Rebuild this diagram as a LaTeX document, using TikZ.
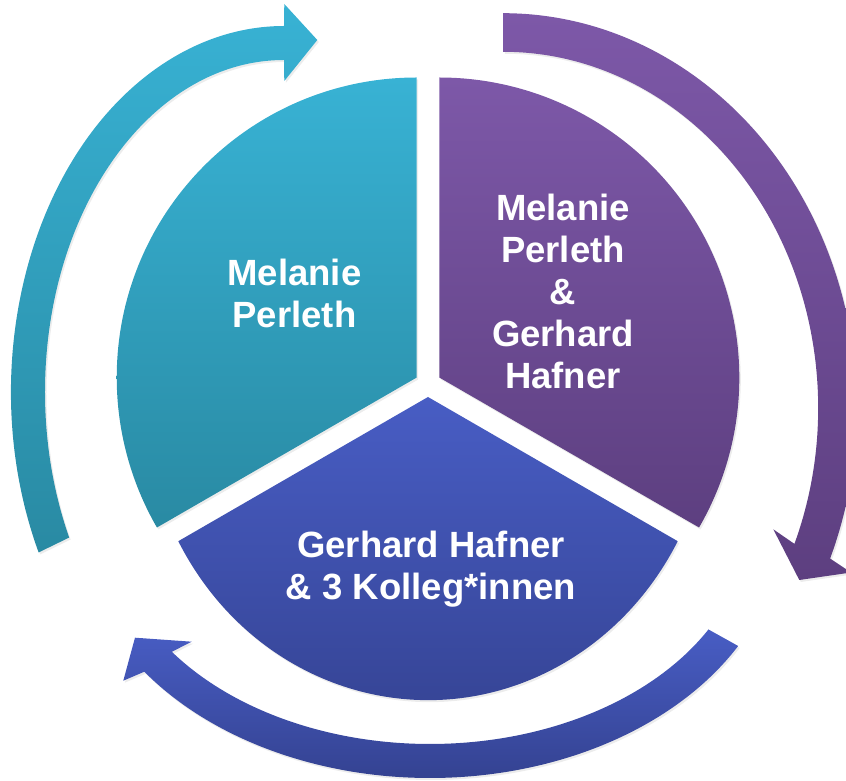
\documentclass[tikz,border=0pt]{standalone}
\usepackage{fontspec}
\setmainfont{Liberation Sans}
\usepackage{tikz}
\usetikzlibrary{calc,shadows}
\definecolor{cycleteal}{RGB}{56,178,212}
\definecolor{cycletealdark}{RGB}{41,138,163}
\definecolor{cyclepurple}{RGB}{125,88,168}
\definecolor{cyclepurpledark}{RGB}{93,63,128}
\definecolor{cycleblue}{RGB}{72,93,196}
\definecolor{cyclebluedark}{RGB}{52,66,145}

\begin{document}
\begin{tikzpicture}[x=1pt,y=1pt,
  segtext/.style={text=white,font=\bfseries\fontsize{36.5}{42}\selectfont,align=center},
  soft/.style={drop shadow={shadow xshift=1.5pt,shadow yshift=-2pt,opacity=0.15}}]
  \clip (-428,-397) rectangle (418,384);
  \coordinate (Ac) at (-11.26,6.5);
  \coordinate (Ap) at (11.26,6.5);
  \coordinate (Ab) at (0,-13);
  \coordinate (Ec) at (-144,-8);
  \coordinate (Ep) at (75.3,-24.1);
  \coordinate (Eb) at (2,-137);
  \shade[soft,top color=cycleteal,bottom color=cycletealdark]
    (Ac) -- ++(90:300) arc[start angle=90,end angle=210,radius=300] -- cycle;
  \shade[soft,top color=cyclepurple,bottom color=cyclepurpledark]
    (Ap) -- ++(-30:300) arc[start angle=-30,end angle=90,radius=300] -- cycle;
  \shade[soft,top color=cycleblue,bottom color=cyclebluedark]
    (Ab) -- ++(-249.7,-144.2) arc[start angle=208.4,end angle=331.6,x radius=283.9,y radius=303] -- cycle;
  \shade[soft,top color=cycleteal,bottom color=cycletealdark]
    ($(Ec)+(206:273 and 366)$) arc[start angle=206,end angle=90,x radius=273,y radius=366]
    -- (-143.7,380) -- (-110.7,344) -- (-143.7,303)
    -- ($(Ec)+(90:239 and 332)$) arc[start angle=90,end angle=206,x radius=239,y radius=332] -- cycle;
  \shade[soft,top color=cyclepurple,bottom color=cyclepurpledark]
    ($(Ep)+(90:353.5 and 394.9)$) arc[start angle=90,end angle=-22.4,x radius=353.5,y radius=394.9]
    -- (423.1,-188.5) -- (371.3,-196) -- (345.3,-145.3)
    -- ($(Ep)+(-22.4:314.9 and 356.3)$) arc[start angle=-22.4,end angle=90,x radius=314.9,y radius=356.3] -- cycle;
  \shade[soft,top color=cycleblue,bottom color=cyclebluedark]
    ($(Eb)+(-29.1:352.7 and 257)$) arc[start angle=-29.1,end angle=-144.1,x radius=352.7,y radius=257]
    -- (-304.7,-296.7) -- (-293,-253.7) -- (-236.3,-257.7)
    -- ($(Eb)+(-144.1:318.7 and 223)$) arc[start angle=-144.1,end angle=-29.1,x radius=318.7,y radius=223] -- cycle;
  \node[segtext] (tealtext) at (-133.5,91) {Melanie\\Perleth};
  \node[segtext] (purpletext) at (135,92.3) {Melanie\\Perleth\\\&\\Gerhard\\Hafner};
  \node[segtext] (bluetext) at (3,-185) {Gerhard Hafner\\\& 3 Kolleg*innen};
\end{tikzpicture}
\end{document}
